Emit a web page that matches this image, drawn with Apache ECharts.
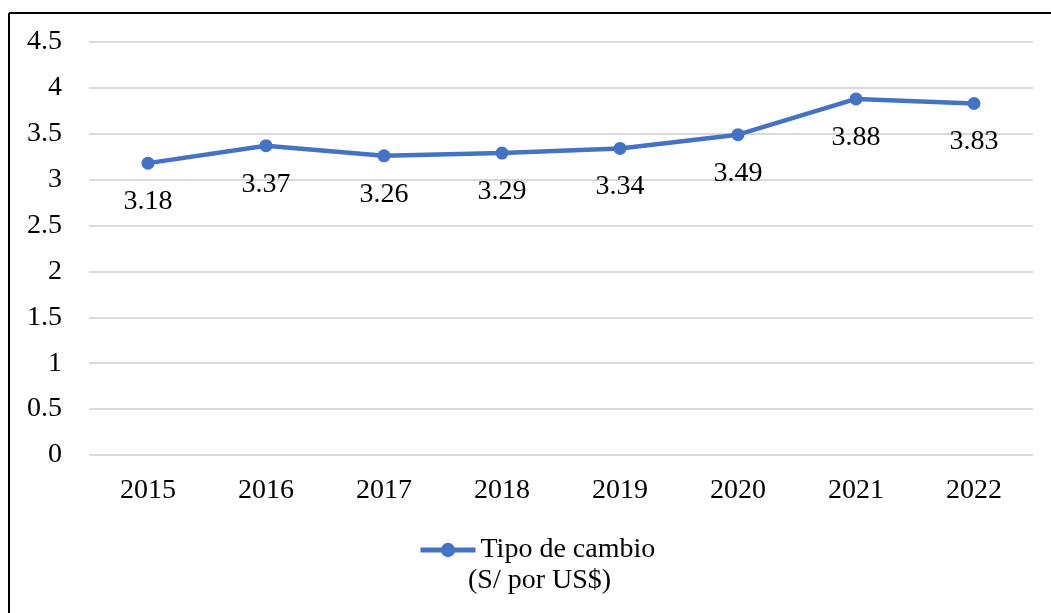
<!DOCTYPE html>
<html>
<head>
<meta charset="utf-8">
<script src="https://cdn.jsdelivr.net/npm/echarts@6/dist/echarts.min.js"></script>
<style>
  html, body { margin: 0; padding: 0; background: #fff; }
  #chart { width: 1051px; height: 613px; }
</style>
</head>
<body>
<div id="chart"></div>
<script>
  const years = ['2015', '2016', '2017', '2018', '2019', '2020', '2021', '2022']
  const tipoCambio = [3.18, 3.37, 3.26, 3.29, 3.34, 3.49, 3.88, 3.83]
  const serieName = 'Tipo de cambio'
  const serieUnit = '(S/ por US$)'

  const font = '"Liberation Serif", "Times New Roman", serif'
  const chart = echarts.init(document.getElementById('chart'))

  let option = {
    animation: false,
    textStyle: { fontFamily: font },
    graphic: [
      // frame: only top and left edges are visible in the picture
      { type: 'line', shape: { x1: 9, y1: 13, x2: 1051, y2: 13 }, style: { stroke: '#000', lineWidth: 2 } },
      { type: 'line', shape: { x1: 9, y1: 13, x2: 9, y2: 613 }, style: { stroke: '#000', lineWidth: 2 } },
      // second line of the legend entry
      {
        type: 'text',
        left: 468,
        top: 567,
        style: { text: serieUnit, font: '28px ' + font, fill: '#000' }
      }
    ],
    grid: { left: 89, right: 18, top: 42, bottom: 158 },
    legend: {
      left: 413,
      top: 529,
      itemWidth: 55,
      itemHeight: 18,
      itemGap: 4,
      lineStyle: { width: 5 },
      itemStyle: { borderWidth: 0 },
      textStyle: {
        fontFamily: font,
        fontSize: 28,
        color: '#000',
        lineHeight: 32
      },
      data: [serieName]
    },
    xAxis: {
      type: 'category',
      data: years,
      boundaryGap: true,
      axisLine: { show: false },
      axisTick: { show: false },
      axisLabel: { fontFamily: font, fontSize: 28, color: '#000', margin: 22 }
    },
    yAxis: {
      type: 'value',
      min: 0,
      max: 4.5,
      interval: 0.5,
      axisLine: { show: false },
      axisTick: { show: false },
      axisLabel: { fontFamily: font, fontSize: 28, color: '#000', margin: 27 },
      splitLine: { lineStyle: { color: '#d9d9d9', width: 2 } }
    },
    series: [
      {
        name: serieName,
        type: 'line',
        data: tipoCambio,
        symbol: 'circle',
        symbolSize: 13,
        itemStyle: { color: '#4472c4' },
        lineStyle: { color: '#4472c4', width: 4.5 },
        label: {
          show: true,
          position: 'bottom',
          distance: 18,
          fontFamily: font,
          fontSize: 28,
          color: '#000'
        }
      }
    ]
  }

  chart.setOption(option)
</script>
</body>
</html>
